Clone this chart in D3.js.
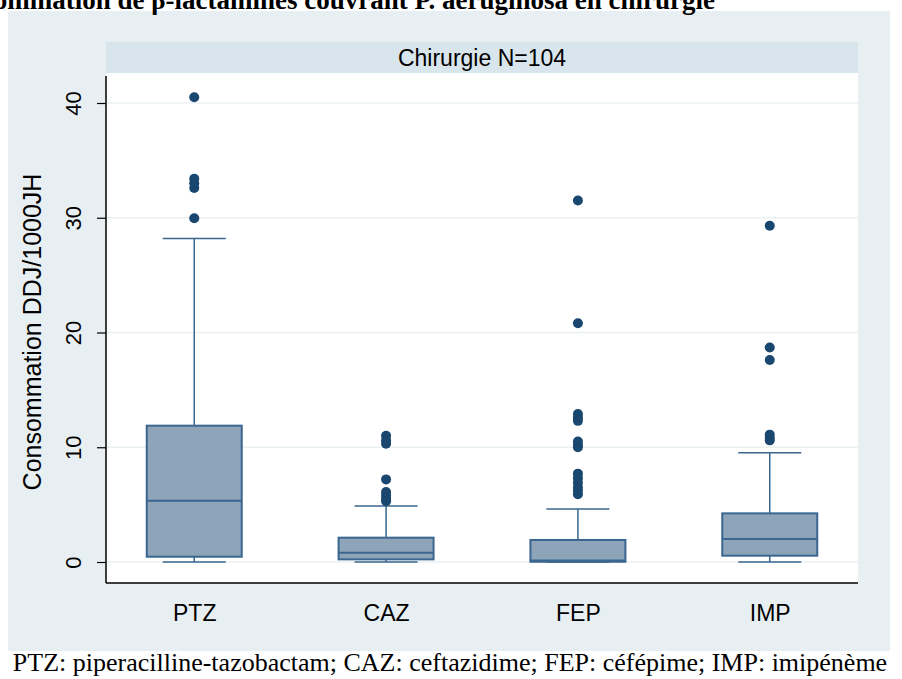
<!DOCTYPE html>
<html>
<head>
<meta charset="utf-8">
<script src="https://cdn.jsdelivr.net/npm/d3@7"></script>
<style>
  html, body { margin: 0; padding: 0; background: #ffffff; }
  svg { display: block; }
</style>
</head>
<body>
<svg id="chart" width="902" height="679"></svg>
<script>
// Consommation DDJ/1000JH par molécule, services de chirurgie
const categories = ["PTZ", "CAZ", "FEP", "IMP"];
const lowerWhisker = [0, 0, 0, 0];
const q1 = [0.46, 0.23, 0.02, 0.55];
const median = [5.34, 0.81, 0.12, 2.0];
const q3 = [11.88, 2.12, 1.92, 4.24];
const upperWhisker = [28.2, 4.88, 4.62, 9.53];
const outliers = [
  [40.5, 33.4, 33.0, 32.6, 29.95],
  [11.0, 10.6, 10.3, 7.2, 6.1, 5.8, 5.5, 5.3],
  [31.5, 20.8, 12.9, 12.6, 12.3, 10.5, 10.2, 10.0, 7.7, 7.3, 6.9, 6.5, 6.2, 5.9],
  [29.3, 18.7, 17.6, 11.1, 10.8, 10.6]
];
const yTicks = [0, 10, 20, 30, 40];

const title = "Consommation de β-lactamines couvrant P. aeruginosa en chirurgie";
const panelTitle = "Chirurgie N=104";
const yTitle = "Consommation DDJ/1000JH";
const caption = "PTZ: piperacilline-tazobactam; CAZ: ceftazidime; FEP: céfépime; IMP: imipénème";

const svg = d3.select("#chart");
const plot = { left: 106, right: 858, top: 73, bottom: 583 };
const sans = "Liberation Sans, Arial, sans-serif";
const serif = "Liberation Serif, Times New Roman, serif";

// Outer panel and strip
svg.append("rect").attr("x", 8).attr("y", 11).attr("width", 882).attr("height", 640)
  .attr("fill", "#e8eff2");
svg.append("rect").attr("x", plot.left).attr("y", 42).attr("width", plot.right - plot.left).attr("height", 31)
  .attr("fill", "#d9e5ec");
svg.append("text").attr("x", (plot.left + plot.right) / 2).attr("y", 66)
  .attr("text-anchor", "middle").attr("font-family", sans)
  .attr("font-size", 23).attr("fill", "#000").text(panelTitle);

// Plot region
svg.append("rect").attr("x", plot.left).attr("y", plot.top)
  .attr("width", plot.right - plot.left).attr("height", plot.bottom - plot.top).attr("fill", "#ffffff");

const x = d3.scalePoint().domain(categories).range([plot.left, plot.right]).padding(0.46);
const y = d3.scaleLinear().domain([0, 40]).range([562, 103]);

// Gridlines
svg.append("g").selectAll("line").data(yTicks).join("line")
  .attr("x1", plot.left).attr("x2", plot.right)
  .attr("y1", d => y(d)).attr("y2", d => y(d))
  .attr("stroke", "#eaf1f3").attr("stroke-width", 1.5);

// Y axis
const yAxis = d3.axisLeft(y).tickValues(yTicks).tickSize(9).tickPadding(0).tickFormat(d3.format("d"));
const gy = svg.append("g").attr("transform", `translate(${plot.left},0)`).call(yAxis);
gy.select(".domain").remove();
gy.selectAll(".tick line").attr("stroke", "#000").attr("stroke-width", 1.2);
gy.selectAll(".tick text")
  .attr("font-family", sans).attr("font-size", 22).attr("fill", "#000")
  .attr("text-anchor", "middle").attr("x", 0).attr("y", 0).attr("dy", 0)
  .attr("transform", "translate(-24,0) rotate(-90) translate(0,-7)")
  .attr("dominant-baseline", "middle");
svg.append("line").attr("x1", plot.left).attr("x2", plot.left).attr("y1", 76).attr("y2", plot.bottom)
  .attr("stroke", "#000").attr("stroke-width", 1.5);

// X axis
const xAxis = d3.axisBottom(x).tickSize(0).tickPadding(22);
const gx = svg.append("g").attr("transform", `translate(0,${plot.bottom})`).call(xAxis);
gx.select(".domain").remove();
gx.selectAll(".tick text").attr("font-family", sans)
  .attr("font-size", 23).attr("fill", "#000");
svg.append("line").attr("x1", plot.left).attr("x2", plot.right).attr("y1", plot.bottom).attr("y2", plot.bottom)
  .attr("stroke", "#000").attr("stroke-width", 1.5);

// Y axis title
svg.append("text")
  .attr("transform", `translate(41,${(plot.top + plot.bottom) / 2 + 4}) rotate(-90)`)
  .attr("text-anchor", "middle").attr("font-family", sans)
  .attr("font-size", 25).attr("fill", "#000").text(yTitle);

// Boxes
const boxW = 95;
const capW = 63;
const boxStroke = "#3a6690";
const boxFill = "#8da4b9";

const rows = categories.map((c, i) => ({
  c, lo: lowerWhisker[i], q1: q1[i], med: median[i], q3: q3[i], hi: upperWhisker[i], out: outliers[i]
}));

const g = svg.append("g");
const box = g.selectAll("g.box").data(rows).join("g").attr("class", "box");

// whisker stems
box.append("line").attr("x1", d => x(d.c)).attr("x2", d => x(d.c))
  .attr("y1", d => y(d.q3)).attr("y2", d => y(d.hi)).attr("stroke", boxStroke).attr("stroke-width", 1.5);
box.append("line").attr("x1", d => x(d.c)).attr("x2", d => x(d.c))
  .attr("y1", d => y(d.q1)).attr("y2", d => y(d.lo)).attr("stroke", boxStroke).attr("stroke-width", 1.5);
// caps
box.append("line").attr("x1", d => x(d.c) - capW / 2).attr("x2", d => x(d.c) + capW / 2)
  .attr("y1", d => y(d.hi)).attr("y2", d => y(d.hi)).attr("stroke", boxStroke).attr("stroke-width", 1.5);
box.append("line").attr("x1", d => x(d.c) - capW / 2).attr("x2", d => x(d.c) + capW / 2)
  .attr("y1", d => y(d.lo)).attr("y2", d => y(d.lo)).attr("stroke", boxStroke).attr("stroke-width", 1.5);
// box body
box.append("rect").attr("x", d => x(d.c) - boxW / 2).attr("width", boxW)
  .attr("y", d => y(d.q3)).attr("height", d => y(d.q1) - y(d.q3))
  .attr("fill", boxFill).attr("stroke", boxStroke).attr("stroke-width", 2);
// median
box.append("line").attr("x1", d => x(d.c) - boxW / 2).attr("x2", d => x(d.c) + boxW / 2)
  .attr("y1", d => y(d.med)).attr("y2", d => y(d.med)).attr("stroke", boxStroke).attr("stroke-width", 2);
// outliers
box.selectAll("circle").data(d => d.out.map(v => ({ c: d.c, v }))).join("circle")
  .attr("cx", d => x(d.c)).attr("cy", d => y(d.v)).attr("r", 5).attr("fill", "#1a476f");

// Title (bold serif, set against the top edge) and caption
svg.append("text").attr("x", 715).attr("y", 9).attr("text-anchor", "end")
  .attr("font-family", serif).attr("font-weight", "bold")
  .attr("font-size", 27).attr("fill", "#000").text(title);
svg.append("text").attr("x", 450).attr("y", 671).attr("text-anchor", "middle")
  .attr("font-family", serif)
  .attr("font-size", 26).attr("fill", "#000").text(caption);
</script>
</body>
</html>
